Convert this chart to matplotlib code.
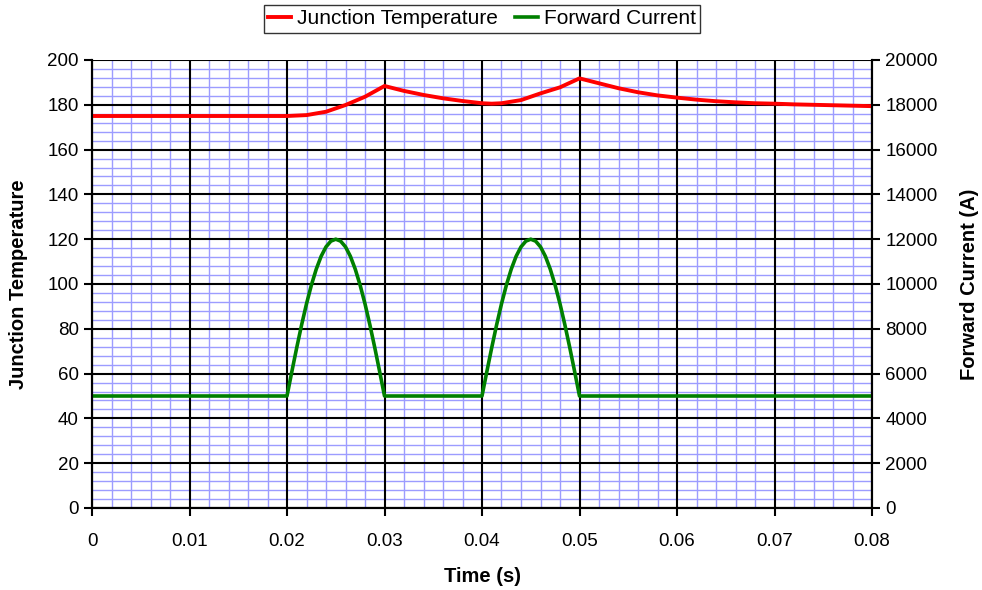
import matplotlib.pyplot as plt
from matplotlib.ticker import MultipleLocator, FixedLocator, FixedFormatter

plt.rcParams['font.family'] = ['Liberation Sans', 'DejaVu Sans']

# Junction temperature
temp_t = [0.0, 0.02, 0.022, 0.024, 0.026, 0.028, 0.03, 0.032, 0.034, 0.036, 0.038,
          0.04, 0.041, 0.042, 0.044, 0.046, 0.048, 0.05, 0.052, 0.054, 0.056, 0.058,
          0.06, 0.062, 0.064, 0.066, 0.068, 0.07, 0.072, 0.074, 0.076, 0.078, 0.08]
temp_v = [175.0, 175.0, 175.4, 176.9, 179.9, 183.6, 188.4, 186.2, 184.4, 182.9, 181.7,
          180.7, 180.5, 180.7, 182.1, 185.1, 187.8, 191.8, 189.6, 187.4, 185.6, 184.2,
          183.2, 182.3, 181.6, 181.1, 180.7, 180.5, 180.2, 180.0, 179.8, 179.6, 179.4]

# Forward current pulse shape, offsets within a 0.01 s pulse
pulse_dt = [0.0, 0.0005, 0.001, 0.0015, 0.002, 0.0025, 0.003, 0.0035, 0.004, 0.0045,
            0.005, 0.0055, 0.006, 0.0065, 0.007, 0.0075, 0.008, 0.0085, 0.009, 0.0095, 0.01]
pulse_i = [5000, 6095, 7163, 8178, 9115, 9950, 10663, 11237, 11658, 11914,
           12000, 11914, 11658, 11237, 10663, 9950, 9115, 8178, 7163, 6095, 5000]
pulse_starts = [0.02, 0.04]
base_current = 5000

x_ticks = [0.0, 0.01, 0.02, 0.03, 0.04, 0.05, 0.06, 0.07, 0.08]
x_labels = ['0', '0.01', '0.02', '0.03', '0.04', '0.05', '0.06', '0.07', '0.08']
y_ticks = [0, 20, 40, 60, 80, 100, 120, 140, 160, 180, 200]

cur_t = [0.0]
cur_v = [base_current]
for s in pulse_starts:
    cur_t += [s + d for d in pulse_dt]
    cur_v += pulse_i
cur_t.append(0.08)
cur_v.append(base_current)

fig = plt.figure(figsize=(9.82, 5.90), dpi=100)
ax = fig.add_axes([92 / 982, 1 - 508 / 590, 780 / 982, 448 / 590])
ax2 = ax.twinx()

ax.set_xlim(0, 0.08)
ax.set_ylim(0, 200)
ax2.set_ylim(0, 20000)

ax.xaxis.set_major_locator(FixedLocator(x_ticks))
ax.xaxis.set_major_formatter(FixedFormatter(x_labels))
ax.xaxis.set_minor_locator(MultipleLocator(0.002))
ax.yaxis.set_major_locator(FixedLocator(y_ticks))
ax.yaxis.set_minor_locator(MultipleLocator(4))
ax2.yaxis.set_major_locator(MultipleLocator(2000))

# light blue minor grid, black major grid on top of it
ax.grid(which='minor', color='#9c9cff', linewidth=1.0)
ax.set_axisbelow(True)
for x in x_ticks:
    ax.axvline(x, color='black', linewidth=1.5, zorder=1)
for y in y_ticks:
    ax.axhline(y, color='black', linewidth=1.5, zorder=1)

ax.tick_params(which='minor', length=0)
ax.tick_params(which='major', direction='out', length=6, width=1.5, labelsize=13.5)
ax2.tick_params(which='major', direction='out', length=6, width=1.5, labelsize=13.5)
ax.tick_params(axis='x', pad=12)

for a in (ax, ax2):
    for sp in a.spines.values():
        sp.set_linewidth(1.5)
    a.spines['top'].set_visible(False)

l1, = ax.plot(temp_t, temp_v, color='#ff0000', linewidth=2.8, label='Junction Temperature',
              zorder=3)
l2, = ax2.plot(cur_t, cur_v, color='#008000', linewidth=2.6, label='Forward Current')

ax.set_xlabel('Time (s)', fontsize=14.5, fontweight='bold', labelpad=12)
ax.set_ylabel('Junction Temperature', fontsize=14.5, fontweight='bold', labelpad=14)
ax2.set_ylabel('Forward Current (A)', fontsize=14.5, fontweight='bold', labelpad=16)

leg = fig.legend(handles=[l1, l2], loc='center', bbox_to_anchor=(482 / 982, 1 - 19 / 590),
                 ncol=2, fontsize=15, frameon=True, fancybox=False, handlelength=1.1,
                 handletextpad=0.3, columnspacing=0.8, borderpad=0.2)
leg.get_frame().set_edgecolor('black')
leg.get_frame().set_linewidth(1.0)

fig.savefig('out.png', dpi=100)
